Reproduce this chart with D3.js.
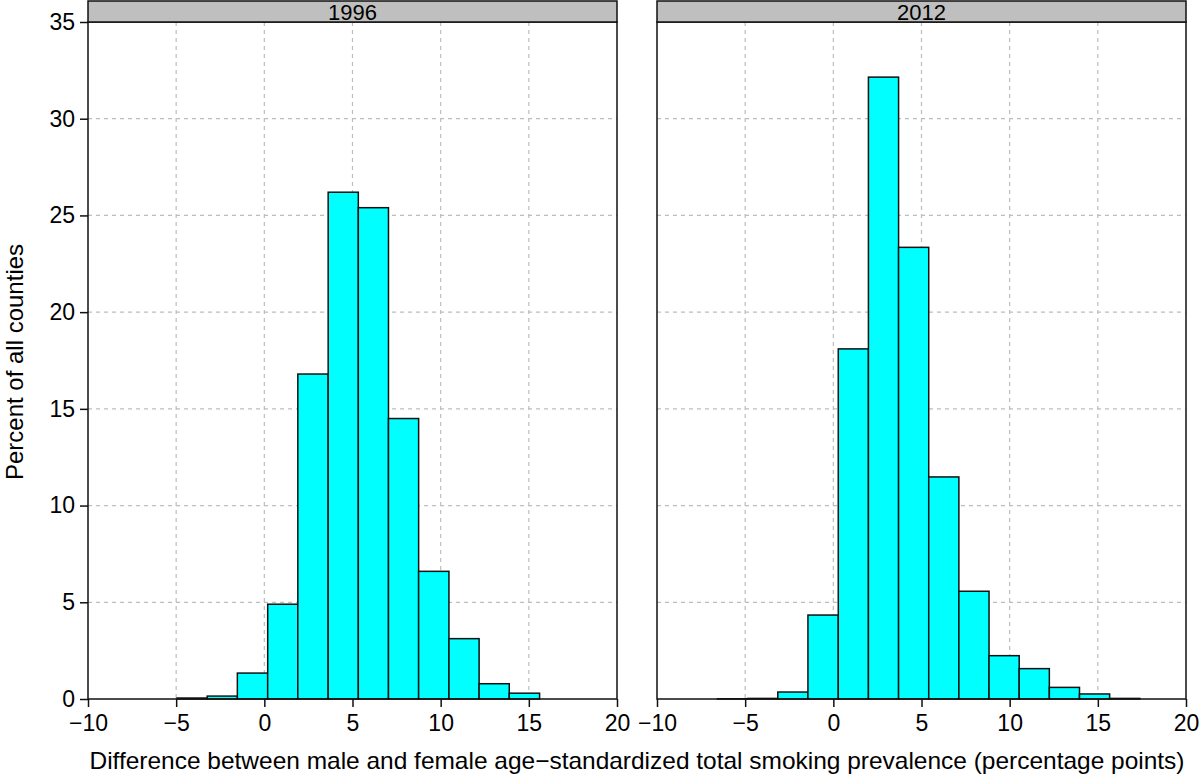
<!DOCTYPE html>
<html>
<head>
<meta charset="utf-8">
<script src="https://cdn.jsdelivr.net/npm/d3@7"></script>
<style>
  body { margin: 0; background: #fff; }
  svg { display: block; font-family: "Liberation Sans", Arial, Helvetica, sans-serif; }
</style>
</head>
<body>
<div id="chart"></div>
<script>
// panel titles
const years = ["1996", "2012"];

// bin edges (percentage points)
const breaks1996 = [-4.95, -3.24, -1.53, 0.19, 1.90, 3.62, 5.33, 7.04, 8.75, 10.47, 12.18, 13.89, 15.61];
const pct1996 = [0.05, 0.15, 1.34, 4.9, 16.8, 26.2, 25.4, 14.5, 6.6, 3.12, 0.79, 0.3];

const breaks2012 = [-6.57, -4.86, -3.15, -1.44, 0.28, 1.99, 3.70, 5.41, 7.12, 8.83, 10.54, 12.25, 13.96, 15.67, 17.38];
const pct2012 = [0.01, 0.03, 0.36, 4.34, 18.1, 32.15, 23.35, 11.48, 5.57, 2.24, 1.57, 0.6, 0.26, 0.03];

const xTicks = [-10, -5, 0, 5, 10, 15, 20];
const yTicks = [0, 5, 10, 15, 20, 25, 30, 35];

const xTitle = "Difference between male and female age\u2212standardized total smoking prevalence (percentage points)";
const yTitle = "Percent of all counties";

const width = 1200, height = 777;
const panelLeft = [88, 657];
const panelWidth = 529;
const stripTop = 1, plotTop = 22, plotBottom = 699;

const fmt = d => (d < 0 ? "\u2212" + Math.abs(d) : String(d));

const panels = [
    { year: years[0], breaks: breaks1996, pct: pct1996 },
    { year: years[1], breaks: breaks2012, pct: pct2012 }
];

const svg = d3.select("#chart").append("svg")
    .attr("width", width)
    .attr("height", height);

const y = d3.scaleLinear()
    .domain([0, 35])
    .range([plotBottom, plotTop]);

panels.forEach(function(p, i) {
    const x0 = panelLeft[i];
    const x = d3.scaleLinear()
        .domain([-10, 20])
        .range([x0, x0 + panelWidth]);

    const g = svg.append("g").attr("class", "panel");

    // grid
    g.selectAll(".vgrid")
        .data(xTicks.slice(1, -1))
        .enter().append("line")
        .attr("x1", d => x(d)).attr("x2", d => x(d))
        .attr("y1", plotTop).attr("y2", plotBottom)
        .attr("stroke", "#bdbdbd").attr("stroke-width", 1.2)
        .attr("stroke-dasharray", "4,4");

    g.selectAll(".hgrid")
        .data(yTicks.slice(1, -1))
        .enter().append("line")
        .attr("x1", x0).attr("x2", x0 + panelWidth)
        .attr("y1", d => y(d)).attr("y2", d => y(d))
        .attr("stroke", "#bdbdbd").attr("stroke-width", 1.2)
        .attr("stroke-dasharray", "4,4");

    // bars
    const bins = p.pct.map((v, j) => ({ lo: p.breaks[j], hi: p.breaks[j + 1], v: v }));
    g.selectAll(".bar")
        .data(bins)
        .enter().append("rect")
        .attr("class", "bar")
        .attr("x", d => x(d.lo))
        .attr("width", d => x(d.hi) - x(d.lo))
        .attr("y", d => y(d.v))
        .attr("height", d => y(0) - y(d.v))
        .attr("fill", "#00ffff")
        .attr("stroke", "#111")
        .attr("stroke-width", 1.5);

    // panel box
    g.append("rect")
        .attr("x", x0).attr("y", plotTop)
        .attr("width", panelWidth).attr("height", plotBottom - plotTop)
        .attr("fill", "none").attr("stroke", "#111").attr("stroke-width", 1.5);

    // strip
    g.append("rect")
        .attr("x", x0).attr("y", stripTop)
        .attr("width", panelWidth).attr("height", plotTop - stripTop)
        .attr("fill", "#bfbfbf").attr("stroke", "#111").attr("stroke-width", 1.5);
    g.append("text")
        .attr("x", x0 + panelWidth / 2).attr("y", plotTop - 2.5)
        .attr("text-anchor", "middle")
        .attr("font-size", 22)
        .attr("fill", "#000")
        .text(p.year);

    // x axis
    const xAxis = d3.axisBottom(x)
        .tickValues(xTicks)
        .tickSize(8)
        .tickFormat(fmt);
    const ax = g.append("g")
        .attr("transform", "translate(0," + plotBottom + ")")
        .call(xAxis);
    ax.select(".domain").remove();
    ax.selectAll(".tick line").attr("stroke", "#111").attr("stroke-width", 1.5);
    ax.selectAll(".tick text")
        .attr("font-size", 23).attr("fill", "#000")
        .attr("font-family", "Liberation Sans, Arial, sans-serif")
        .attr("dy", "0.9em");

    if (i === 0) {
        const yAxis = d3.axisLeft(y)
            .tickValues(yTicks)
            .tickSize(8)
            .tickFormat(fmt);
        const ay = g.append("g")
            .attr("transform", "translate(" + x0 + ",0)")
            .call(yAxis);
        ay.select(".domain").remove();
        ay.selectAll(".tick line").attr("stroke", "#111").attr("stroke-width", 1.5);
        ay.selectAll(".tick text")
            .attr("font-size", 23).attr("fill", "#000")
            .attr("font-family", "Liberation Sans, Arial, sans-serif")
            .attr("x", -13);
    }
});

svg.append("text")
    .attr("x", (panelLeft[0] + panelLeft[1] + panelWidth) / 2)
    .attr("y", 769)
    .attr("text-anchor", "middle")
    .attr("font-size", 24)
    .attr("textLength", 1095)
    .attr("lengthAdjust", "spacingAndGlyphs")
    .text(xTitle);

svg.append("text")
    .attr("transform", "translate(23," + 362 + ") rotate(-90)")
    .attr("text-anchor", "middle")
    .attr("font-size", 24)
    .text(yTitle);
</script>
</body>
</html>
